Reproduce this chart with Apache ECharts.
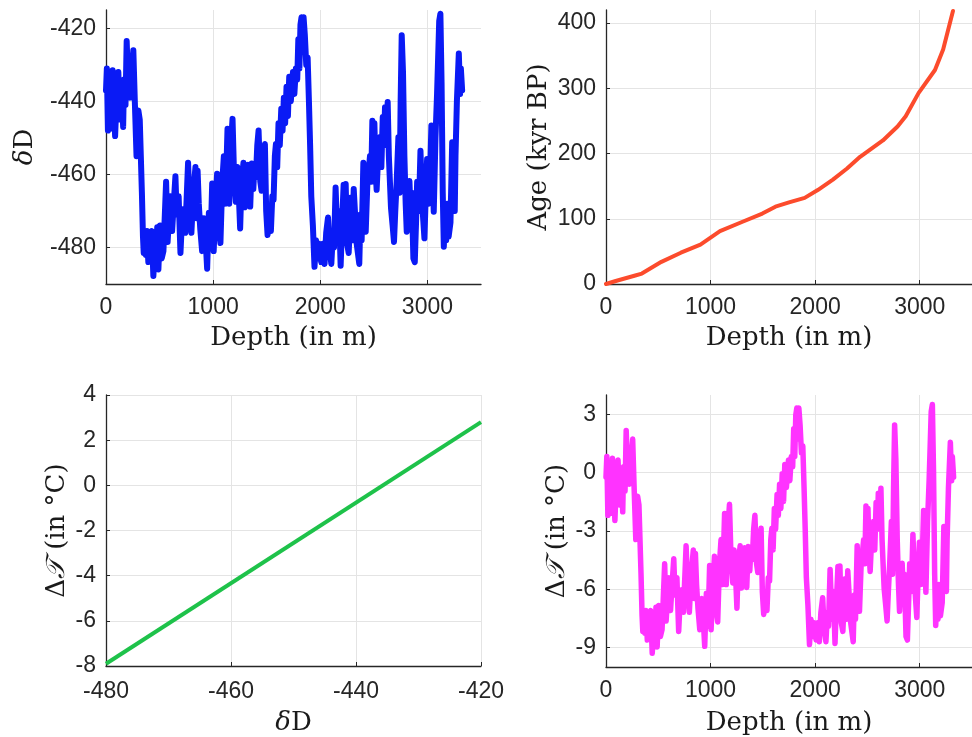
<!DOCTYPE html>
<html><head><meta charset="utf-8">
<script src="https://cdn.jsdelivr.net/npm/echarts@6/dist/echarts.min.js"></script>
<style>html,body{margin:0;padding:0;background:#fff}#c{width:972px;height:737px}</style>
</head><body><div id="c"></div>
<script>
// Depth (m) and deltaD (per mil)
const depth = [
0,8,18,30,40,62,75,85,100,115,
130,148,160,168,182,193,208,224,240,255,
270,285,302,315,325,335,345,352,362,372,
382,395,410,427,442,455,470,478,489,505,
520,536,561,575,600,617,632,648,660,678,
695,710,726,740,766,780,797,815,835,845,
855,866,880,897,915,930,944,960,975,991,
1005,1020,1037,1050,1068,1085,1100,1115,1134,1150,
1165,1181,1195,1212,1225,1240,1252,1265,1283,1295,
1310,1327,1346,1360,1375,1385,1399,1412,1424,1440,
1452,1468,1483,1495,1508,1525,1539,1552,1564,1576,
1586,1598,1610,1622,1636,1648,1660,1672,1685,1698,
1710,1725,1745,1758,1772,1785,1795,1805,1815,1825,
1834,1844,1856,1869,1882,1894,1905,1916,1931,1946,
1960,1978,1990,2009,2025,2040,2055,2072,2085,2103,
2118,2128,2143,2160,2175,2190,2205,2218,2230,2237,
2250,2265,2287,2300,2312,2324,2340,2364,2375,2386,
2402,2415,2424,2440,2449,2464,2475,2486,2496,2505,
2515,2526,2540,2558,2570,2583,2595,2604,2617,2629,
2640,2660,2675,2688,2700,2713,2729,2740,2750,2760,
2772,2785,2797,2807,2819,2832,2845,2853,2869,2882,
2895,2904,2920,2935,2950,2960,2972,2985,2997,3010,
3025,3037,3050,3059,3075,3090,3100,3110,3121,3132,
3143,3153,3165,3175,3184,3198,3215,3231,3245,3255,
3262,3275,3293,3305,3312,3324];
const deltaD = [
-437,-431,-448,-436,-447.5,-431.5,-441,-449.5,-438,-432,
-445,-437,-447,-434,-441,-423.5,-437,-439,-432,-426,
-441,-455,-442.5,-445,-455,-465,-477,-481.5,-476,-482,
-475.5,-484,-477,-475.5,-487.8,-481,-484,-474.5,-486,-474,
-483,-481,-462,-478.5,-466,-475.5,-468,-460.5,-471,-466,
-481.5,-472,-469.5,-476,-456.8,-468,-476,-465,-458,-472,
-459,-468,-475,-481,-472,-478,-485.8,-470.5,-480,-462.5,
-481,-470,-459.8,-474,-478.8,-462,-455,-468,-447.5,-468,
-452,-444.8,-460,-467.5,-458,-466,-474.8,-462,-456.8,-469,
-460,-457.4,-468.8,-457,-464,-458,-460.8,-452,-448,-462,
-464.5,-455,-451.7,-470,-476.6,-472,-475.5,-466,-467,-455,
-451.7,-458,-446,-452,-442,-448,-439,-446,-436,-444,
-433.3,-440,-432,-438,-431,-434,-423,-431,-419,-417,
-426,-417,-422,-430,-428,-440,-452,-466,-474,-485.3,
-478,-483,-479,-484,-479,-484.5,-476,-471.8,-480,-484.5,
-476,-480,-463.6,-478,-470,-485,-472,-462.8,-478,-462.6,
-479,-481.5,-466.3,-478,-464,-464,-479,-484.5,-471,-478,
-456.8,-470,-475.7,-462,-459.8,-455,-462,-445.3,-455,-446,
-458,-464.2,-455,-449.8,-458,-444.3,-452,-441.6,-450,-440.2,
-455,-469.2,-474,-478.5,-470,-462,-449.8,-465,-440,-421.9,
-432,-455,-468,-475.7,-466,-461.8,-472,-465,-483,-484,
-472,-462,-470,-453.5,-467,-472,-477.5,-465,-455.8,-468,
-460,-446.6,-462,-470.2,-450,-437.9,-428,-418,-416,-435,
-465,-479.8,-471,-478,-468,-477,-473.2,-451.2,-465,-470,
-455,-440,-426.9,-438,-431,-437];

// Age-depth relation (top-right panel)
const ageDepth = [0,93,280,343,530,716,903,1090,1300,1495,1620,1750,1900,2025,2170,2305,2430,2648,2788,2866,2990,3146,3224,3318];
const ageKyr   = [0,4.6,13,16,34,48,60.5,81,95,108,118.5,125,132,144,160,177,195,220,241.5,257,293,328,359.5,418.5];

// deltaD -> temperature calibration line (bottom-left panel, end points)
const calibDeltaD = [-480, -420];
const calibDeltaT = [-7.9, 2.8];

// Temperature anomaly derived from deltaD through the calibration line shown
const calibSlope = (calibDeltaT[1] - calibDeltaT[0]) / (calibDeltaD[1] - calibDeltaD[0]);
const deltaT = deltaD.map(v => calibDeltaT[0] + (v - calibDeltaD[0]) * calibSlope);

const chart = echarts.init(document.getElementById('c'), null, {renderer: 'canvas'});
const ink = '#262626';
const plain = v => String(v);
const tickFont = {color: ink, fontFamily: 'Liberation Sans, Arial, sans-serif', fontSize: 23, formatter: plain};
const serif = 'DejaVu Serif, serif';
const nameFont = {color: '#1a1a1a', fontFamily: serif, fontSize: 26,
  rich: {i: {fontFamily: serif, fontSize: 26, fontStyle: 'italic', color: '#1a1a1a'},
         t: {fontFamily: serif, fontSize: 26, fontStyle: 'italic', color: '#1a1a1a', padding: [0, 9, 0, 0]},
         n: {fontFamily: serif, fontSize: 26, color: '#1a1a1a'}}};
const gridLine = {color: '#e4e4e4', width: 1};

function axisBase(extra) {
  return Object.assign({
    type: 'value',
    axisLine: {show: true, onZero: false, lineStyle: {color: ink, width: 1.3}},
    axisTick: {show: true, inside: true, length: 4, lineStyle: {color: ink, width: 1}},
    axisLabel: Object.assign({margin: 10}, tickFont),
    splitLine: {show: true, lineStyle: gridLine},
    nameLocation: 'middle',
    nameTextStyle: nameFont
  }, extra);
}

const grids = [
  {left: 106, top: 10, width: 375, height: 274},
  {left: 606, top: 10, width: 375, height: 274},
  {left: 106, top: 395, width: 375, height: 272},
  {left: 606, top: 395, width: 375, height: 272}
];

const depthAxis = (gi, gap) => axisBase({
  gridIndex: gi, min: 0, max: 3500, interval: 1000,
  name: 'Depth (in m)', nameGap: gap,
  axisLabel: Object.assign({margin: 12, showMaxLabel: false}, tickFont),
  splitLine: {show: true, showMaxLine: false, lineStyle: gridLine}
});

const dTName = '{n|Δ}{t|𝒯}{n|(in\u00a0°C)}';

const option = {
  backgroundColor: '#fff',
  animation: false,
  grid: grids,
  xAxis: [
    depthAxis(0, 41),
    depthAxis(1, 41),
    axisBase({gridIndex: 2, min: -480, max: -420, interval: 20,
      name: '{i|δ}{n|D}', nameGap: 44,
      axisLabel: Object.assign({margin: 14}, tickFont)}),
    depthAxis(3, 43)
  ],
  yAxis: [
    axisBase({gridIndex: 0, min: -490, max: -415, splitNumber: 4,
      name: '{i|δ}{n|D}', nameGap: 68,
      axisLabel: Object.assign({margin: 10, showMinLabel: false, showMaxLabel: false}, tickFont),
      splitLine: {show: true, showMinLine: false, showMaxLine: false, lineStyle: gridLine}}),
    axisBase({gridIndex: 1, min: 0, max: 420, interval: 100,
      name: 'Age (kyr BP)', nameGap: 54,
      axisLabel: Object.assign({margin: 10, showMaxLabel: false}, tickFont),
      splitLine: {show: true, showMinLine: false, showMaxLine: false, lineStyle: gridLine}}),
    axisBase({gridIndex: 2, min: -8, max: 4, interval: 2,
      name: dTName, nameGap: 36}),
    axisBase({gridIndex: 3, min: -10, max: 4, splitNumber: 4,
      name: dTName, nameGap: 36,
      axisLabel: Object.assign({margin: 10, showMinLabel: false, showMaxLabel: false}, tickFont),
      splitLine: {show: true, showMinLine: false, showMaxLine: false, lineStyle: gridLine}})
  ],
  series: [
    {type: 'line', xAxisIndex: 0, yAxisIndex: 0, showSymbol: false, clip: true,
     data: depth.map((d, i) => [d, deltaD[i]]),
     lineStyle: {color: '#0a1af5', width: 6, cap: 'round', join: 'round'}},
    {type: 'line', xAxisIndex: 1, yAxisIndex: 1, showSymbol: false, clip: true,
     data: ageDepth.map((d, i) => [d, ageKyr[i]]),
     lineStyle: {color: '#fc4b2c', width: 4, cap: 'round', join: 'round'}},
    {type: 'line', xAxisIndex: 2, yAxisIndex: 2, showSymbol: false, clip: true,
     data: calibDeltaD.map((d, i) => [d, calibDeltaT[i]]),
     lineStyle: {color: '#1ec24a', width: 4}},
    {type: 'line', xAxisIndex: 3, yAxisIndex: 3, showSymbol: false, clip: true,
     data: depth.map((d, i) => [d, deltaT[i]]),
     lineStyle: {color: '#ff33ff', width: 5.5, cap: 'round', join: 'round'}}
  ]
};
chart.setOption(option);
</script>
</body></html>
